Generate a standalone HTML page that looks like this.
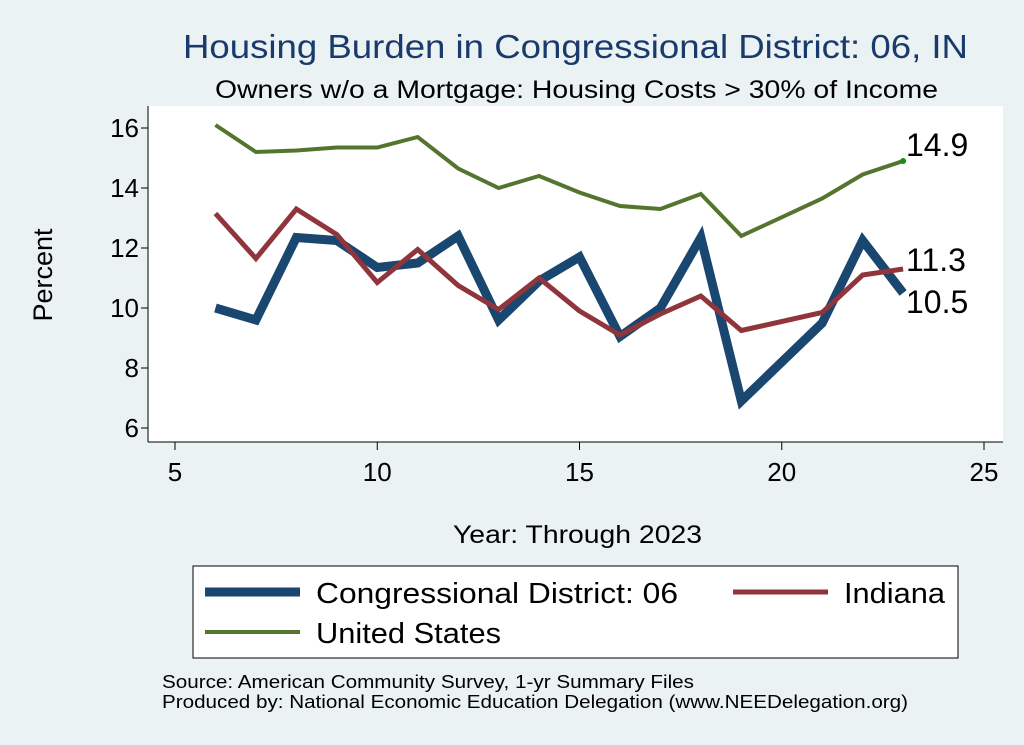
<!DOCTYPE html>
<html><head><meta charset="utf-8"><style>
body{margin:0;background:#eaf2f3;}
svg{display:block;font-family:"Liberation Sans",Arial,sans-serif;}
</style></head><body>
<svg id="chart" width="1024" height="745" viewBox="0 0 1024 745">
<rect x="0" y="0" width="1024" height="745" fill="#eaf2f3"/>
<text x="183" y="58" font-size="33" fill="#1a3a6b" textLength="785" lengthAdjust="spacingAndGlyphs">Housing Burden in Congressional District:  06, IN</text>
<text x="215" y="98" font-size="25" fill="#000" textLength="723" lengthAdjust="spacingAndGlyphs">Owners w/o a Mortgage: Housing Costs &gt; 30% of Income</text>
<rect x="148" y="106" width="855" height="336" fill="#fff"/>
<g id="axes"></g>
<g id="series"></g>
<text x="52" y="275" font-size="27" text-anchor="middle" transform="rotate(-90 52 275)">Percent</text>
<text x="453" y="543" font-size="25" textLength="249" lengthAdjust="spacingAndGlyphs">Year: Through 2023</text>
<rect x="193" y="566" width="765" height="92" fill="#fff" stroke="#000" stroke-width="1"/>
<g>
<line x1="205" y1="592" x2="300" y2="592" stroke="#1a476f" stroke-width="9"/>
<text x="316" y="603" font-size="29" textLength="362" lengthAdjust="spacingAndGlyphs">Congressional District:  06</text></g>
<g>
<line x1="733" y1="592" x2="828" y2="592" stroke="#90353b" stroke-width="5"/>
<text x="844" y="603" font-size="29" textLength="101" lengthAdjust="spacingAndGlyphs">Indiana</text></g>
<g>
<line x1="205" y1="632" x2="300" y2="632" stroke="#55752f" stroke-width="4"/>
<text x="316" y="643" font-size="29" textLength="185" lengthAdjust="spacingAndGlyphs">United States</text></g>
<text x="162" y="688" font-size="18" textLength="532" lengthAdjust="spacingAndGlyphs">Source: American Community Survey, 1-yr Summary Files</text>
<text x="162" y="708" font-size="18" textLength="746" lengthAdjust="spacingAndGlyphs">Produced by: National Economic Education Delegation (www.NEEDelegation.org)</text>
</svg>
<script>
const years=[6,7,8,9,10,11,12,13,14,15,16,17,18,19,21,22,23];
const districtVals=[10.0,9.6,12.35,12.25,11.35,11.5,12.4,9.6,10.9,11.7,9.05,10.0,12.35,6.9,9.5,12.25,10.5];
const indianaVals=[13.15,11.65,13.3,12.45,10.85,11.95,10.75,9.95,11.0,9.9,9.1,9.8,10.4,9.25,9.85,11.1,11.3];
const usVals=[16.1,15.2,15.25,15.35,15.35,15.7,14.65,14.0,14.4,13.85,13.4,13.3,13.8,12.4,13.65,14.45,14.9];
const xTicks=[5,10,15,20,25];
const yTicks=[6,8,10,12,14,16];
const labels=["14.9","11.3","10.5"];
const NS="http://www.w3.org/2000/svg";
const xs=v=>175+(v-5)*40.45;
const ys=v=>428-(v-6)*30;
function mk(t,a,p){const e=document.createElementNS(NS,t);for(const k in a)e.setAttribute(k,a[k]);p.appendChild(e);return e;}
const ax=document.getElementById('axes');
mk('line',{x1:148,y1:106,x2:148,y2:442,stroke:'#000'},ax);
mk('line',{x1:148,y1:442,x2:1003,y2:442,stroke:'#000'},ax);
yTicks.forEach(v=>{
 const l=mk('line',{x1:141,y1:ys(v),x2:148,y2:ys(v),stroke:'#000'},ax);
 
 
 const t=mk('text',{x:139,y:ys(v)+9,'font-size':26,'text-anchor':'end'},ax);t.textContent=v;
 
 
});
xTicks.forEach(v=>{
 const l=mk('line',{x1:xs(v),y1:442,x2:xs(v),y2:450,stroke:'#000'},ax);
 
 
 const t=mk('text',{x:xs(v),y:481,'font-size':26,'text-anchor':'middle'},ax);t.textContent=v;
 
 
});
const sg=document.getElementById('series');
function line(vals,color,w,name){
 const p=mk('polyline',{points:years.map((y,i)=>xs(y)+','+ys(vals[i])).join(' '),fill:'none',stroke:color,'stroke-width':w,'stroke-linejoin':'miter'},sg);
 
 
}
line(usVals,'#55752f',4,'us-line');
line(districtVals,'#1a476f',9,'district-line');
line(indianaVals,'#90353b',5,'indiana-line');
const n=years.length-1;
const dot=mk('circle',{cx:xs(years[n]),cy:ys(usVals[n]),r:3,fill:'#1a8a1a'},sg);


[[usVals[n],labels[0],-5],[indianaVals[n],labels[1],2],[districtVals[n],labels[2],20]].forEach(([v,l,dy])=>{
 const t=mk('text',{x:906,y:ys(v)+dy,'font-size':32},sg);t.textContent=l;
 
 
});
</script>
</body></html>
